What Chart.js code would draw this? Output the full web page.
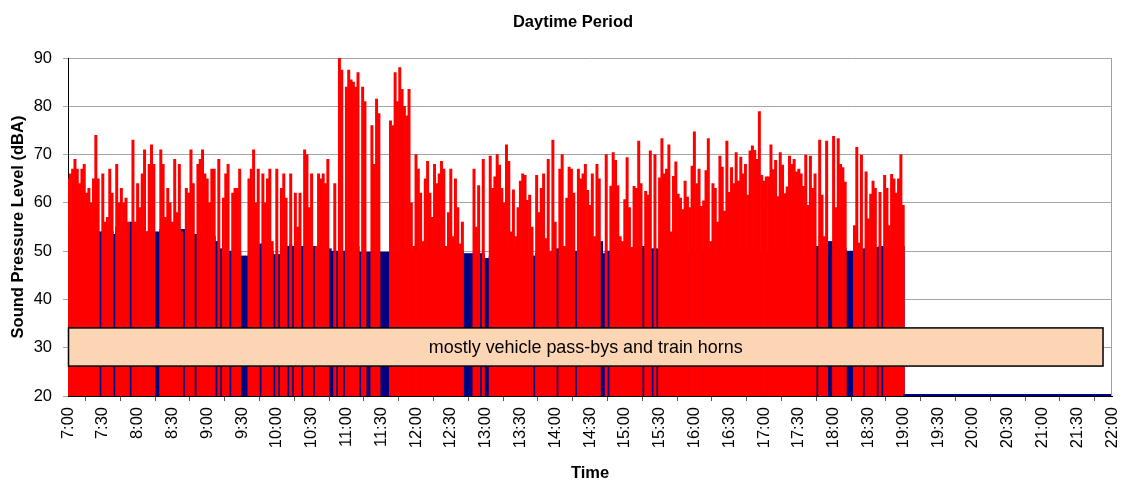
<!DOCTYPE html>
<html><head><meta charset="utf-8">
<script src="https://cdn.jsdelivr.net/npm/chart.js@4.4.1/dist/chart.umd.min.js"></script>
<style>html,body{margin:0;padding:0;background:#fff;overflow:hidden}</style>
</head><body>
<canvas id="c" width="1123" height="486" style="display:block;width:1123px;height:486px"></canvas>
<script>
// categories: 2-minute intervals from 7:00 to 22:00
const startMinute = 7 * 60, stepMinutes = 2, endMinute = 22 * 60;
const categories = [];
for (let m = startMinute; m <= endMinute; m += stepMinutes) {
  categories.push(Math.floor(m / 60) + ':' + String(m % 60).padStart(2, '0'));
}
const tickLabels = ['7:00','7:30','8:00','8:30','9:00','9:30','10:00','10:30','11:00','11:30','12:00','12:30','13:00','13:30','14:00','14:30','15:00','15:30','16:00','16:30','17:00','17:30','18:00','18:30','19:00','19:30','20:00','20:30','21:00','21:30','22:00'];

// red series (dBA), 7:00 - 19:00
const leqValues = [
65,66,67,69,67,64,67,68,62,63,
60,65,74,65,null,66,56,57,67,62,
null,68,60,63,60,61,56,null,73,56,
64,59,66,71,54,68,72,68,null,null,
71,68,57,63,60,56,69,58,68,54,
null,63,62,71,64,null,68,69,71,66,
65,60,67,67,null,69,null,61,66,68,
null,62,63,63,67,null,null,null,65,67,
71,60,67,null,66,60,65,67,52,null,
67,null,63,66,61,null,66,null,62,55,
62,null,71,70,59,66,null,51,66,65,
66,64,69,null,null,64,null,90,87.5,null,
84,87.5,85.5,85,84,87,null,84,81,null,
null,76,68,81.5,78.5,null,null,null,null,77,
76,87,81,88,83.5,80,78,83.5,60,51,
70,67,62,52,65,68.6,62,57,68,64,
66,68.6,67,51,58,67,53,65,59,51.5,
56,null,null,null,null,67,55,63.6,null,69,
null,null,69.7,63,65.4,70,67.8,63,60,72,
68.6,54,62.7,53,59,64.5,66,65.7,60.5,61.6,
55,null,65.7,58,63,66,52.6,69,50,73,
56,null,67,70,51,61,67.4,67,62,null,
67,65,66,68,62.6,59.5,66,53,68,65,
null,null,70,null,63.5,70.4,68.8,63.6,53,52,
60.7,69.4,59,50.8,63.4,63,72.8,64,null,62.4,
61.6,70.8,null,70,null,65.2,73.3,66,67,72,
54,65.5,68.5,61.8,61,58.6,64.5,61.2,59,67.6,
74.7,64,67,59.3,60.4,66.7,73.3,52,64,63,
56,69.7,67.4,58.3,72.8,62.2,67.3,64,70.4,64.5,
69.5,66,68,61.6,70.8,71.8,70.9,69,78.9,65.7,
64.5,65.4,65.4,72,66.9,68.8,61.3,70.4,67.8,61.9,
63.3,69.7,68,69,66.4,67,66,63.4,69.9,59.5,
69.7,63,66,null,73,61.6,53,72.8,null,null,
73.8,59,73.3,68,67.3,64.3,null,null,null,55.3,
71.5,51.7,69.9,null,66.4,56.7,61.8,64.5,63,null,
62.2,null,65.7,63,55.3,65.9,65,62,65,70,59.5
];

// navy background series (dBA), 7:00 - 19:00
const backgroundValues = [
55,55,55,55,55,55,55,55,55,55,
55,55,55,54,54,54,54,54,54,54,
53.5,55,55,55,55,55,55,56,55,55,
55,55,54,54,54,54,54,54,54,54,
54.5,54.5,54.5,54.5,54.5,54.5,54.5,54.5,54.5,54.5,
54.5,53.5,53.5,53.5,53.5,53.5,53,53,53,53,
53,53,53,53,52,50.5,50.5,50,50,50,
50,50,50,50,50,49,49,49,49,50,
50,50,50,51.5,50,50,50,50,50,49.3,
49.3,49.3,51,51,51,51,51.4,51,51,51,
51,51,51,51,51,51,51,50.5,50.5,50.5,
50.5,50.5,50.5,50.5,50,50,50,50,50,50,
50.3,50,50,50,50,51,49.8,49.8,49.8,49.8,
49.8,49.8,49.8,49.8,49.8,49.8,49.8,49.8,49.8,49.5,
49.5,49.5,49.5,49.5,49.5,49.5,49.5,49.5,49.5,49.5,
49.5,50,50,50,50,50,50,50,50,50,
50,50,50,50,50,50,50,50,50,50,
50,49.5,49.5,49.5,49.5,49.5,49.5,49.5,49.5,49.5,
48.5,48.5,49,49,49,49,49,49,49,49,
49,49,49,49,49,49,49,49,49,49,
49,49,49.5,49.5,49.5,49.5,49.5,49.5,49.5,49.5,
49.5,50.5,50.5,50.5,50.5,50.5,50.5,50,50,50,
50,50,50,50,50,50,50,50,50,50,
52,49.5,50,50,50,50,50,50,50,50,
50,50,50,50,50,50,50,50,51,50.5,
50.5,50.5,50.5,50.5,50.5,50,49.5,49.5,49.5,49.5,
49.5,49.5,49.5,49.5,49.5,49.5,49.5,49.5,49.5,49.5,
49.5,49.5,49.5,49.5,49.5,49.5,49.5,49.5,49.5,49.5,
49.5,49.5,49.5,49.5,49.5,49.5,49.5,49.5,49.5,49.5,
49.5,49.5,49.5,49.5,49.5,49.5,49.5,49.5,49.5,49.5,
49.5,49.5,49.5,49.5,49.5,49.5,49.5,49.5,49.5,49.5,
49.5,49.5,49.5,49.5,49.5,49.5,49.5,49.5,49.5,49.5,
49.5,49.5,49.5,51,51,51,51,51,52,52,
51,50.5,50.5,50.5,50.5,50.5,50,50,50,50,
50,50,50,50.5,50.5,50.5,50.5,50.5,50.5,50.8,
51,51,51,51,51,51,51,51,51,51,51
];

// evening (no measurement) baseline, 19:00 - 22:00
const eveningTimes = ['19:00', '22:00'];
const eveningLevel = [20.2, 20.2];

const annotationText = 'mostly vehicle pass-bys and train horns';
const FONT = '"Liberation Sans", Arial, sans-serif';

const overlayPlugin = {
  id: 'overlay',
  afterDatasetsDraw(chart) {
    const {ctx, chartArea, scales} = chart;
    const y = scales.y;
    const top = y.getPixelForValue(34.1), bottom = y.getPixelForValue(26.2);
    const left = chartArea.left + 0.5, right = chartArea.left + (chartArea.right - chartArea.left) * 0.9914;
    ctx.save();
    ctx.fillStyle = '#FCD5B4';
    ctx.fillRect(left, top, right - left, bottom - top);
    ctx.strokeStyle = '#000';
    ctx.lineWidth = 1.5;
    ctx.strokeRect(left, top, right - left, bottom - top);
    ctx.fillStyle = '#000';
    let fs = 17;
    ctx.font = fs + 'px ' + FONT;
    const w = ctx.measureText(annotationText).width;
    fs = fs * 314 / w;
    ctx.font = fs + 'px ' + FONT;
    ctx.textAlign = 'center';
    ctx.textBaseline = 'middle';
    ctx.fillText(annotationText, (left + right) / 2, (top + bottom) / 2 + 1);
    ctx.restore();
  },
  afterDraw(chart) {
    const {ctx, chartArea} = chart;
    ctx.save();
    ctx.strokeStyle = '#a0a0a0';
    ctx.lineWidth = 1;
    ctx.beginPath();
    ctx.moveTo(chartArea.right - 0.5, chartArea.top);
    ctx.lineTo(chartArea.right - 0.5, chartArea.bottom);
    ctx.stroke();
    ctx.fillStyle = '#000';
    ctx.font = 'bold 16.5px ' + FONT;
    ctx.textAlign = 'center';
    ctx.textBaseline = 'middle';
    ctx.fillText('Daytime Period', 573, 22);
    ctx.restore();
  }
};

new Chart(document.getElementById('c'), {
  type: 'bar',
  data: {
    labels: categories,
    datasets: [
      {
        type: 'line',
        data: eveningTimes.map((t, i) => ({x: t, y: eveningLevel[i]})),
        borderColor: '#000080',
        borderWidth: 2,
        pointRadius: 0,
        fill: false
      },
      {
        data: leqValues,
        backgroundColor: '#ff0000',
        borderWidth: 0,
        barPercentage: 1,
        categoryPercentage: 1,
        grouped: false
      },
      {
        data: backgroundValues,
        backgroundColor: '#000080',
        borderWidth: 0,
        barPercentage: 1,
        categoryPercentage: 1,
        grouped: false
      }
    ]
  },
  options: {
    responsive: false,
    animation: false,
    devicePixelRatio: 1,
    events: [],
    layout: {padding: {top: 58, right: 11, left: 0, bottom: 0}},
    plugins: {legend: {display: false}, tooltip: {enabled: false}, title: {display: false}},
    scales: {
      x: {
        type: 'category',
        offset: false,
        afterBuildTicks(scale) {
          scale.ticks = scale.ticks.filter(t => t.value % 15 === 0);
        },
        afterFit(scale) { scale.height = 90; scale.paddingLeft = 0; scale.paddingRight = 0; },
        ticks: {
          autoSkip: false,
          maxRotation: 90,
          minRotation: 90,
          padding: 6,
          color: '#000',
          font: {family: FONT, size: 16.5},
          callback(value) { return tickLabels[value / 15]; }
        },
        grid: {display: true, drawOnChartArea: false, drawTicks: true, tickLength: 5, color: '#555'},
        border: {display: true, color: '#000', width: 1},
        title: {display: true, text: 'Time', color: '#000', font: {family: FONT, size: 16.5, weight: 'bold'}, padding: {top: 0, bottom: 3}}
      },
      y: {
        min: 20,
        max: 90,
        afterFit(scale) { scale.width = 68; },
        ticks: {stepSize: 10, color: '#000', padding: 11, font: {family: FONT, size: 16.5}},
        grid: {color: '#a6a6a6', lineWidth: 1, tickLength: 5},
        border: {display: true, color: '#000', width: 1},
        title: {display: true, text: 'Sound Pressure Level (dBA)', color: '#000', font: {family: FONT, size: 16.5, weight: 'bold'}, padding: {top: 9, bottom: 0}}
      }
    }
  },
  plugins: [overlayPlugin]
});
</script>
</body></html>
